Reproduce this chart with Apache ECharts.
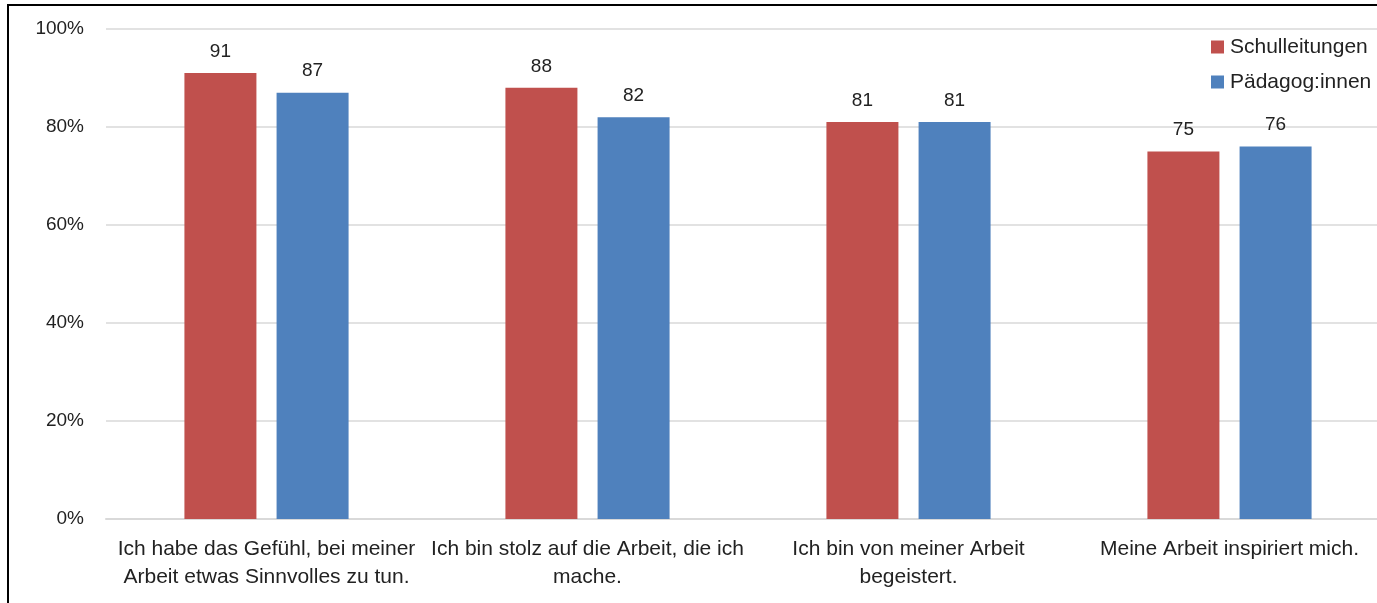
<!DOCTYPE html>
<html>
<head>
<meta charset="utf-8">
<script src="https://cdn.jsdelivr.net/npm/echarts@6/dist/echarts.min.js"></script>
<style>
html,body{margin:0;padding:0;background:#fff;overflow:hidden;}
#c{position:absolute;left:0;top:0;width:1420px;height:603px;}
#frame{position:absolute;left:7px;top:4px;width:1420px;height:700px;border:2px solid #000;box-sizing:border-box;pointer-events:none;}
</style>
</head>
<body>
<div id="c"></div>
<div id="frame"></div>
<script>
const categories = [
  "Ich habe das Gefühl, bei meiner\nArbeit etwas Sinnvolles zu tun.",
  "Ich bin stolz auf die Arbeit, die ich\nmache.",
  "Ich bin von meiner Arbeit\nbegeistert.",
  "Meine Arbeit inspiriert mich."
];
const seriesNames = ["Schulleitungen", "Pädagog:innen"];
const schulleitungen = [91, 88, 81, 75];
const paedagogen = [87, 82, 81, 76];
const yTicks = [0, 20, 40, 60, 80, 100];

const font = "'Liberation Sans', Arial, sans-serif";
const chart = echarts.init(document.getElementById('c'));
chart.setOption({
  animation: false,
  textStyle: {fontFamily: font},
  grid: {left: 106, top: 29, width: 1284, height: 490, containLabel: false},
  legend: {
    orient: 'vertical', left: 1211, top: 35, padding: 0, itemWidth: 13, itemHeight: 13, itemGap: 11,
    icon: 'rect',
    textStyle: {fontSize: 21, color: '#222', fontFamily: font, lineHeight: 24, padding: [0,0,0,1]},
    data: seriesNames
  },
  xAxis: {
    type: 'category', data: categories,
    axisLine: {lineStyle: {color: '#d9d9d9', width: 2}},
    axisTick: {show: false},
    axisLabel: {fontSize: 21, color: '#222', margin: 16, lineHeight: 28, interval: 0, fontFamily: font}
  },
  yAxis: {
    type: 'value', min: 0, max: 100, interval: 20,
    axisLine: {show: false}, axisTick: {show: false},
    axisLabel: {fontSize: 19, color: '#222', margin: 22, formatter: v => v + '%', fontFamily: font},
    splitLine: {lineStyle: {color: '#d9d9d9', width: 1.5}}
  },
  series: [
    {name: seriesNames[0], type: 'bar', data: schulleitungen, barWidth: 72, barGap: '28%',
     itemStyle: {color: '#C0504D'},
     label: {show: true, position: 'top', distance: 12, fontSize: 19, color: '#222', fontFamily: font}},
    {name: seriesNames[1], type: 'bar', data: paedagogen, barWidth: 72, barGap: '28%',
     itemStyle: {color: '#4F81BD'},
     label: {show: true, position: 'top', distance: 12, fontSize: 19, color: '#222', fontFamily: font}}
  ]
});
</script>
</body>
</html>
